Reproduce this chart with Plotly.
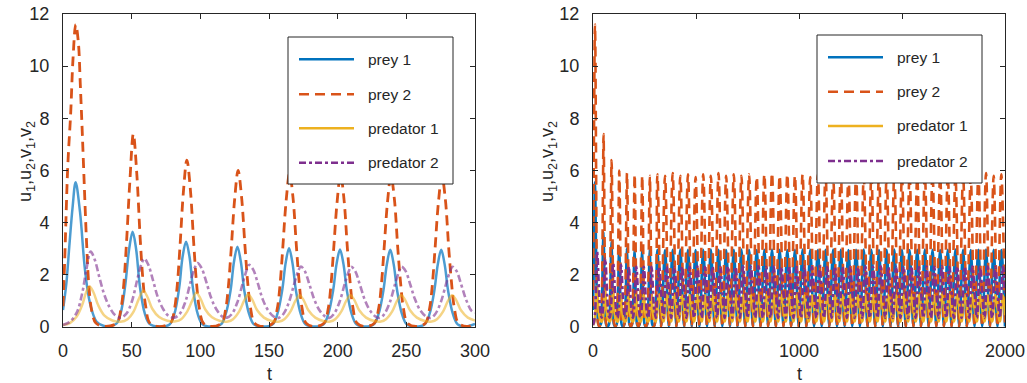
import plotly.graph_objects as go

# ---------------- data ----------------
# left panel, t in [0, 300]: (t, value) pairs
prey1_left = [(0,0.65),(2.5,1.7),(4.6,3.1),(7,4.6),(9.2,5.55),(12.4,4.4),(16,2.2),(19.7,0.9),(24.5,0.2),(30,0.04),
 (38.7,0.12),(42,0.53),(45.2,1.55),(48.2,3.0),(50.7,3.65),(53.2,3.0),(56,1.55),(59.5,0.53),(63,0.12),(69,0.02),
 (77.6,0.1),(81.1,0.5),(84.6,1.5),(87.1,2.7),(89.6,3.27),(92.1,2.7),(94.6,1.5),(98.1,0.5),(101.6,0.1),(107.6,0.02),
 (115,0.1),(118.5,0.5),(122,1.4),(124.5,2.5),(127,3.08),(129.5,2.5),(132,1.4),(135.5,0.5),(139,0.1),(145,0.02),
 (152.6,0.1),(156.1,0.5),(159.6,1.4),(162.1,2.45),(164.6,3.02),(167.1,2.45),(169.6,1.4),(173.1,0.5),(176.6,0.1),(182.6,0.02),
 (189.7,0.1),(193.2,0.5),(196.7,1.4),(199.2,2.42),(201.7,2.97),(204.2,2.42),(206.7,1.4),(210.2,0.5),(213.7,0.1),(219.7,0.02),
 (226.3,0.1),(229.8,0.5),(233.3,1.4),(235.8,2.4),(238.3,2.96),(240.8,2.4),(243.3,1.4),(246.8,0.5),(250.3,0.1),(256.3,0.02),
 (263.4,0.1),(266.9,0.5),(270.4,1.4),(272.9,2.4),(275.4,2.96),(277.9,2.4),(280.4,1.4),(283.9,0.5),(287.4,0.1),(293.4,0.02),(300,0.12)]

prey2_left = [(0,0.8),(1.2,2.5),(3.5,6.2),(5.6,8.2),(7.3,10.3),(9.3,11.6),(11.2,10.9),(12.6,9.3),(14,7.5),(15.6,5.3),
 (17.2,3.2),(18.8,1.6),(21,0.6),(24,0.15),(30,0.02),
 (39.2,0.15),(42.2,0.7),(44.2,1.6),(46.2,3.2),(48.7,5.6),(51.2,7.4),(53.7,5.9),(56.2,3.4),(58.2,1.8),(60.2,0.8),(63.2,0.15),(69,0.02),
 (78.2,0.15),(81.2,0.7),(83.2,1.6),(85.2,3.1),(87.7,5.2),(90.2,6.4),(92.7,5.3),(95.2,3.2),(97.2,1.7),(99.2,0.75),(102.2,0.15),(108,0.02),
 (115.5,0.15),(118.5,0.7),(120.5,1.6),(122.5,3.0),(125,4.9),(127.5,6.0),(130,5.0),(132.5,3.1),(134.5,1.7),(136.5,0.75),(139.5,0.15),(145.5,0.02),
 (153,0.15),(156,0.7),(158,1.6),(160,3.0),(162.5,4.85),(165,5.9),(167.5,4.95),(170,3.05),(172,1.7),(174,0.75),(177,0.15),(183,0.02),
 (190.1,0.15),(193.1,0.7),(195.1,1.6),(197.1,3.0),(199.6,4.8),(202.1,5.85),(204.6,4.9),(207.1,3.0),(209.1,1.7),(211.1,0.75),(214.1,0.15),(220,0.02),
 (226.8,0.15),(229.8,0.7),(231.8,1.6),(233.8,3.0),(236.3,4.8),(238.8,5.8),(241.3,4.9),(243.8,3.0),(245.8,1.7),(247.8,0.75),(250.8,0.15),(257,0.02),
 (263.9,0.15),(266.9,0.7),(268.9,1.6),(270.9,3.0),(273.4,4.8),(275.9,5.8),(278.4,4.9),(280.9,3.0),(282.9,1.7),(284.9,0.75),(287.9,0.15),(294,0.02),(300,0.12)]

pred1_left = [(0,0.08),(5,0.15),(10,0.4),(14,0.85),(17,1.35),(19.3,1.55),(22,1.35),(25.5,0.85),(30,0.45),(36,0.25),(42,0.2),
 (47,0.3),(51.5,0.6),(55,1.05),(58.5,1.39),(61.5,1.15),(65,0.7),(70,0.38),(76,0.24),(82,0.22),
 (86,0.3),(90.5,0.6),(94,1.0),(97,1.31),(100,1.1),(103.5,0.68),(108.5,0.37),(114.5,0.23),(120,0.21),
 (123.8,0.3),(128.3,0.6),(131.8,1.0),(134.8,1.25),(137.8,1.05),(141.3,0.65),(146.3,0.36),(152,0.23),(157.5,0.21),
 (161.2,0.3),(165.7,0.6),(169.2,1.0),(172.2,1.22),(175.2,1.03),(178.7,0.64),(183.7,0.36),(189.5,0.23),(194.5,0.21),
 (198.2,0.3),(202.7,0.6),(206.2,1.0),(209.2,1.22),(212.2,1.03),(215.7,0.64),(220.7,0.36),(226.5,0.23),(231.5,0.21),
 (235.2,0.3),(239.7,0.6),(243.2,1.0),(246.2,1.22),(249.2,1.03),(252.7,0.64),(257.7,0.36),(263.5,0.23),(268.5,0.21),
 (272.3,0.3),(276.8,0.6),(280.3,1.0),(283.3,1.22),(286.3,1.03),(289.8,0.64),(294.8,0.36),(300,0.25)]

pred2_left = [(0,0.08),(5,0.2),(10,0.55),(14,1.3),(17,2.2),(20.1,2.89),(23,2.6),(26.5,1.9),(30,1.25),(34,0.75),(38,0.45),(42,0.36),
 (46,0.5),(50,0.95),(54,1.8),(57,2.4),(59.2,2.62),(62,2.4),(65.5,1.8),(69,1.15),(73,0.68),(77,0.42),(81,0.36),
 (85,0.5),(89,0.95),(93,1.75),(96,2.28),(98,2.45),(101,2.25),(104.5,1.7),(108,1.1),(112,0.65),(116,0.4),(119.5,0.36),
 (123,0.5),(127,0.95),(131,1.7),(134,2.22),(135.5,2.38),(138.5,2.2),(142,1.65),(145.5,1.05),(149.5,0.63),(153.5,0.4),(157,0.35),
 (160.5,0.5),(164.5,0.95),(168.5,1.68),(171.5,2.18),(173.2,2.32),(176,2.15),(179.5,1.62),(183,1.05),(187,0.62),(191,0.4),(194,0.35),
 (197.3,0.5),(201.3,0.95),(205.3,1.68),(208.3,2.17),(209.8,2.31),(212.7,2.15),(216.2,1.62),(219.7,1.05),(223.7,0.62),(227.7,0.4),(230.8,0.35),
 (234,0.5),(238,0.95),(242,1.68),(245,2.17),(246.5,2.31),(249.4,2.15),(252.9,1.62),(256.4,1.05),(260.4,0.62),(264.4,0.4),(267.8,0.35),
 (271.1,0.5),(275.1,0.95),(279.1,1.68),(282.1,2.17),(283.6,2.31),(286.5,2.15),(290,1.62),(293.5,1.05),(297.5,0.62),(300,0.55)]

# right panel continues the same run up to t = 2000 (extremes of each cycle)
prey_t_ext = [312.5,331.0,349.6,368.1,386.7,405.2,423.8,442.3,460.9,479.4,498.0,516.5,535.1,553.6,572.2,590.7,
 609.3,627.8,646.4,664.9,683.5,702.0,720.6,739.1,757.7,776.2,794.8,813.3,831.9,850.4,869.0,887.5,906.1,924.6,
 943.2,961.7,980.3,998.8,1017.4,1035.9,1054.5,1073.0,1091.6,1110.1,1128.7,1147.2,1165.8,1184.3,1202.9,1221.4,
 1240.0,1258.5,1277.1,1295.6,1314.2,1332.7,1351.3,1369.8,1388.4,1406.9,1425.5,1444.0,1462.6,1481.1,1499.7,1518.2,
 1536.8,1555.3,1573.9,1592.4,1611.0,1629.5,1648.1,1666.6,1685.2,1703.7,1722.3,1740.8,1759.4,1777.9,1796.5,1815.0,
 1833.6,1852.1,1870.7,1889.2,1907.8,1926.3,1944.9,1963.4,1982.0,2000.0]
prey1_ext = [2.96,0.02,2.95,0.02,2.96,0.02,2.97,0.02,2.96,0.02,2.95,0.02,2.96,0.02,2.97,0.02,2.96,0.02,2.95,0.02,
 2.96,0.02,2.97,0.02,2.96,0.02,2.95,0.02,2.96,0.02,2.97,0.02,2.96,0.02,2.95,0.02,2.96,0.02,2.97,0.02,
 2.96,0.02,2.95,0.02,2.96,0.02,2.97,0.02,2.96,0.02,2.95,0.02,2.96,0.02,2.97,0.02,2.96,0.02,2.95,0.02,
 2.96,0.02,2.97,0.02,2.96,0.02,2.95,0.02,2.96,0.02,2.97,0.02,2.96,0.02,2.95,0.02,2.96,0.02,2.97,0.02,
 2.96,0.02,2.95,0.02,2.96,0.02,2.97,0.02,2.96,0.02,2.95,0.02]
prey2_ext = [5.85,0.02,5.8,0.02,5.9,0.02,5.8,0.02,5.85,0.02,5.75,0.02,5.85,0.02,5.8,0.02,5.9,0.02,5.8,0.02,
 5.85,0.02,5.8,0.02,5.85,0.02,5.75,0.02,5.85,0.02,5.9,0.02,5.8,0.02,5.85,0.02,5.8,0.02,5.85,0.02,
 5.75,0.02,5.85,0.02,5.9,0.02,5.8,0.02,5.85,0.02,5.8,0.02,5.85,0.02,5.75,0.02,5.85,0.02,5.9,0.02,
 5.8,0.02,5.85,0.02,5.8,0.02,5.85,0.02,5.75,0.02,5.85,0.02,5.9,0.02,5.8,0.02,5.85,0.02,5.8,0.02,
 5.85,0.02,5.75,0.02,5.85,0.02,5.9,0.02,5.8,0.02,5.85,0.02]
pred_t_ext = [305.0,320.5,342.1,357.6,379.2,394.7,416.3,431.8,453.4,468.9,490.5,506.0,527.6,543.1,564.7,580.2,
 601.8,617.3,638.9,654.4,676.0,691.5,713.1,728.6,750.2,765.7,787.3,802.8,824.4,839.9,861.5,877.0,898.6,914.1,
 935.7,951.2,972.8,988.3,1009.9,1025.4,1047.0,1062.5,1084.1,1099.6,1121.2,1136.7,1158.3,1173.8,1195.4,1210.9,
 1232.5,1248.0,1269.6,1285.1,1306.7,1322.2,1343.8,1359.3,1380.9,1396.4,1418.0,1433.5,1455.1,1470.6,1492.2,1507.7,
 1529.3,1544.8,1566.4,1581.9,1603.5,1619.0,1640.6,1656.1,1677.7,1693.2,1714.8,1730.3,1751.9,1767.4,1789.0,1804.5,
 1826.1,1841.6,1863.2,1878.7,1900.3,1915.8,1937.4,1952.9,1974.5,1990.0,2000.0]
pred1_ext = [0.21,1.22,0.21,1.23,0.21,1.22,0.21,1.21,0.21,1.22,0.21,1.23,0.21,1.22,0.21,1.21,0.21,1.22,0.21,1.23,
 0.21,1.22,0.21,1.21,0.21,1.22,0.21,1.23,0.21,1.22,0.21,1.21,0.21,1.22,0.21,1.23,0.21,1.22,0.21,1.21,
 0.21,1.22,0.21,1.23,0.21,1.22,0.21,1.21,0.21,1.22,0.21,1.23,0.21,1.22,0.21,1.21,0.21,1.22,0.21,1.23,
 0.21,1.22,0.21,1.21,0.21,1.22,0.21,1.23,0.21,1.22,0.21,1.21,0.21,1.22,0.21,1.23,0.21,1.22,0.21,1.21,
 0.21,1.22,0.21,1.23,0.21,1.22,0.21,1.21,0.21,1.22,0.21,1.22,0.45]
pred2_ext = [0.35,2.31,0.35,2.33,0.35,2.3,0.35,2.32,0.35,2.31,0.35,2.33,0.35,2.3,0.35,2.32,0.35,2.31,0.35,2.33,
 0.35,2.3,0.35,2.32,0.35,2.31,0.35,2.33,0.35,2.3,0.35,2.32,0.35,2.31,0.35,2.33,0.35,2.3,0.35,2.32,
 0.35,2.31,0.35,2.33,0.35,2.3,0.35,2.32,0.35,2.31,0.35,2.33,0.35,2.3,0.35,2.32,0.35,2.31,0.35,2.33,
 0.35,2.3,0.35,2.32,0.35,2.31,0.35,2.33,0.35,2.3,0.35,2.32,0.35,2.31,0.35,2.33,0.35,2.3,0.35,2.32,
 0.35,2.31,0.35,2.33,0.35,2.3,0.35,2.32,0.35,2.31,0.35,2.31,1.3]

series_names = ["prey 1", "prey 2", "predator 1", "predator 2"]
x_ticks_left = [0, 50, 100, 150, 200, 250, 300]
x_ticks_right = [0, 500, 1000, 1500, 2000]
y_ticks = [0, 2, 4, 6, 8, 10, 12]

# ---------------- styling ----------------
W, H = 1027, 383
FONT = "Liberation Sans, Arial, Helvetica, sans-serif"
INK = "#262626"
full_colors = ["#0072BD", "#D95319", "#EDB120", "#7E2F8E"]
left_colors = ["rgba(0,114,189,0.70)", "#D95319", "rgba(237,177,32,0.55)", "rgba(126,47,142,0.60)"]
dashes = ["solid", "10px,6px", "solid", "7px,3px,3px,3px"]
widths = [2.5, 2.8, 2.5, 2.6]

def X(px):
    return px / W

def Y(py):
    return 1 - py / H

left_sets = [prey1_left, prey2_left, pred1_left, pred2_left]
right_sets = [
    prey1_left + list(zip(prey_t_ext, prey1_ext, strict=True)),
    prey2_left + list(zip(prey_t_ext, prey2_ext, strict=True)),
    pred1_left + list(zip(pred_t_ext, pred1_ext, strict=True)),
    pred2_left + list(zip(pred_t_ext, pred2_ext, strict=True)),
]

fig = go.Figure()
for i, pts in enumerate(left_sets):
    fig.add_trace(go.Scatter(
        x=[p[0] for p in pts], y=[p[1] for p in pts], mode="lines",
        line=dict(color=left_colors[i], width=widths[i], dash=dashes[i], shape="spline", smoothing=1.0),
        name=series_names[i], showlegend=False, xaxis="x", yaxis="y", hoverinfo="skip"))
for i, pts in enumerate(right_sets):
    fig.add_trace(go.Scatter(
        x=[p[0] for p in pts], y=[p[1] for p in pts], mode="lines",
        line=dict(color=full_colors[i], width=2.6, dash=dashes[i], shape="spline", smoothing=1.0),
        name=series_names[i], showlegend=False, xaxis="x2", yaxis="y2", hoverinfo="skip"))

axis_common = dict(showline=True, linecolor=INK, linewidth=1, mirror="ticks", ticks="inside",
                   ticklen=5, tickcolor=INK, tickwidth=1, showgrid=False, zeroline=False,
                   automargin=False, tickfont=dict(family=FONT, size=18, color=INK))

pl = (63, 475)
pr = (593, 1005)
ptop, pbot = 14, 327

fig.update_layout(
    width=W, height=H, margin=dict(l=0, r=0, t=0, b=0, autoexpand=False),
    paper_bgcolor="white", plot_bgcolor="white", showlegend=False,
    xaxis=dict(domain=[X(pl[0]), X(pl[1])], range=[0, 300], tickvals=x_ticks_left, anchor="y",
               ticklabelstandoff=7, **axis_common),
    yaxis=dict(domain=[Y(pbot), Y(ptop)], range=[0, 12], tickvals=y_ticks, anchor="x",
               ticklabelstandoff=9, **axis_common),
    xaxis2=dict(domain=[X(pr[0]), X(pr[1])], range=[0, 2000], tickvals=x_ticks_right, anchor="y2",
                ticklabelstandoff=7, **axis_common),
    yaxis2=dict(domain=[Y(pbot), Y(ptop)], range=[0, 12], tickvals=y_ticks, anchor="x2",
                ticklabelstandoff=9, **axis_common),
)

ann = []
shapes = []
ylabel = "u<sub>1</sub>,u<sub>2</sub>,v<sub>1</sub>,v<sub>2</sub>"
for cx in (26, 548):
    ann.append(dict(text=ylabel, x=X(cx), y=Y(162), xref="paper", yref="paper", showarrow=False,
                    textangle=-90, xanchor="center", yanchor="middle",
                    font=dict(family=FONT, size=18, color=INK)))
for cx in ((pl[0] + pl[1]) / 2, (pr[0] + pr[1]) / 2):
    ann.append(dict(text="t", x=X(cx), y=Y(374), xref="paper", yref="paper", showarrow=False,
                    xanchor="center", yanchor="middle", font=dict(family=FONT, size=18, color=INK)))

# legends (one per panel)
legends = [
    dict(box=(288, 37, 453, 184), rows=[59.3, 94.3, 128.3, 162.7], line=(299, 354), tx=366),
    dict(box=(817, 35, 982, 183), rows=[57.3, 91.7, 126.0, 161.0], line=(828, 883), tx=895),
]
for lg in legends:
    x0, y0, x1, y1 = lg["box"]
    shapes.append(dict(type="rect", xref="paper", yref="paper", x0=X(x0), x1=X(x1), y0=Y(y1), y1=Y(y0),
                       line=dict(color=INK, width=1), fillcolor="white", layer="above"))
    for i, ry in enumerate(lg["rows"]):
        shapes.append(dict(type="line", xref="paper", yref="paper", x0=X(lg["line"][0]), x1=X(lg["line"][1]),
                           y0=Y(ry), y1=Y(ry), layer="above",
                           line=dict(color=full_colors[i], width=2.5, dash=dashes[i])))
        ann.append(dict(text=series_names[i], x=X(lg["tx"]), y=Y(ry), xref="paper", yref="paper",
                        showarrow=False, xanchor="left", yanchor="middle",
                        font=dict(family=FONT, size=15.5, color=INK)))

fig.update_layout(annotations=ann, shapes=shapes)
fig.write_html("out.html")
